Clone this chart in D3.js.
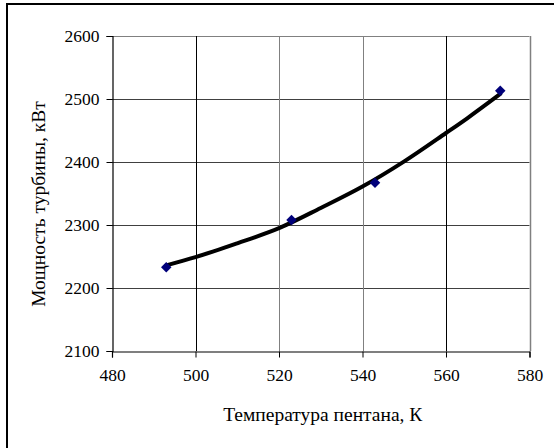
<!DOCTYPE html>
<html>
<head>
<meta charset="utf-8">
<script src="https://cdn.jsdelivr.net/npm/d3@7"></script>
<style>
  body { margin: 0; background: #fff; }
  svg { display: block; }
</style>
</head>
<body>
<div id="chart"></div>
<script>
// measured points (temperature K, power kW)
const tempPoints = [493, 523, 543, 573];
const powerPoints = [2233, 2308, 2367, 2513];

// trend line
const trendTemp = [493, 500, 510, 520, 530, 540, 550, 560, 565, 573];
const trendPower = [2236, 2249, 2271, 2295, 2327, 2361, 2401, 2446, 2469, 2508];

const xTicks = [480, 500, 520, 540, 560, 580];
const yTicks = [2100, 2200, 2300, 2400, 2500, 2600];

const serif = "'Liberation Serif', 'Times New Roman', 'DejaVu Serif', serif";

const width = 554, height = 448;
const margin = { top: 36, right: 24, bottom: 97, left: 112 };

const svg = d3.select("#chart").append("svg")
    .attr("width", width)
    .attr("height", height);

// outer frame (runs off the right and bottom edge like the original)
svg.append("rect")
    .attr("x", 7).attr("y", 4)
    .attr("width", 560).attr("height", 460)
    .attr("fill", "none")
    .attr("stroke", "#000")
    .attr("stroke-width", 2);

const x = d3.scaleLinear().domain([480, 580]).range([margin.left, width - margin.right - 0.5]);
const y = d3.scaleLinear().domain([2100, 2600]).range([height - margin.bottom, margin.top]);

// grid
const vColor = v => (v === 500 || v === 560) ? "#000" : "#808080";
svg.append("g")
    .selectAll("line")
    .data(yTicks.slice(1))
    .join("line")
    .attr("x1", x(480)).attr("x2", x(580))
    .attr("y1", d => Math.round(y(d)) + 0.5).attr("y2", d => Math.round(y(d)) + 0.5)
    .attr("stroke", d => d === 2600 ? "#808080" : "#404040");

svg.append("g")
    .selectAll("line")
    .data(xTicks.slice(1))
    .join("line")
    .attr("x1", d => Math.round(x(d)) + 0.5).attr("x2", d => Math.round(x(d)) + 0.5)
    .attr("y1", y(2100)).attr("y2", y(2600))
    .attr("stroke", d => d === 580 ? "#808080" : vColor(d))
    .attr("stroke-width", d => d === 580 ? 1.5 : 1);

// axes
const xAxis = svg.append("g")
    .attr("transform", `translate(0,${Math.round(y(2100)) + 0.5})`)
    .call(d3.axisBottom(x).tickValues(xTicks).tickFormat(d3.format("d")).tickSize(6).tickPadding(11));
const yAxis = svg.append("g")
    .attr("transform", `translate(${Math.round(x(480)) + 0.5},0)`)
    .call(d3.axisLeft(y).tickValues(yTicks).tickFormat(d3.format("d")).tickSize(6).tickPadding(7));

[xAxis, yAxis].forEach(g => {
    g.attr("font-family", serif).attr("font-size", 17.5);
    g.select(".domain").attr("stroke", "#000").attr("stroke-width", 1.2);
    g.selectAll(".tick line").attr("stroke", "#000");
    g.selectAll(".tick text").attr("fill", "#000");
});

// trend line
const line = d3.line()
    .x((d, i) => x(trendTemp[i]))
    .y(d => y(d))
    .curve(d3.curveMonotoneX);

svg.append("path")
    .datum(trendPower)
    .attr("d", line)
    .attr("fill", "none")
    .attr("stroke", "#000")
    .attr("stroke-width", 4)
    .attr("stroke-linecap", "round");

// markers
svg.append("g")
    .selectAll("path")
    .data(powerPoints)
    .join("path")
    .attr("d", d3.symbol(d3.symbolDiamond2, 70))
    .attr("transform", (d, i) => `translate(${x(tempPoints[i])},${y(d)})`)
    .attr("fill", "#00007a");

// axis titles
svg.append("text")
    .attr("x", (x(480) + x(580)) / 2 + 2)
    .attr("y", 421)
    .attr("text-anchor", "middle")
    .attr("font-family", serif)
    .attr("font-size", 19.5)
    .text("Температура пентана, К");

svg.append("text")
    .attr("transform", "translate(45,204) rotate(-90)")
    .attr("text-anchor", "middle")
    .attr("font-family", serif)
    .attr("font-size", 19.5)
    .text("Мощность турбины, кВт");
</script>
</body>
</html>
